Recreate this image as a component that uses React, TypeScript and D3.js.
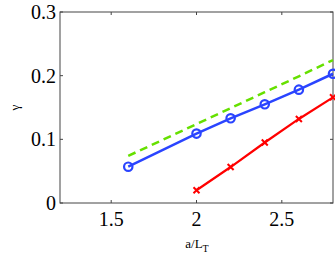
import * as d3 from 'd3'
import { useEffect, useRef } from 'react'

const blueX = [1.6, 2.0, 2.2, 2.4, 2.6, 2.8]
const blueY = [0.057, 0.109, 0.133, 0.155, 0.178, 0.203]
const redX = [2.0, 2.2, 2.4, 2.6, 2.8]
const redY = [0.02, 0.0565, 0.095, 0.132, 0.166]
const greenX = [1.6, 2.0, 2.2, 2.4, 2.6, 2.8]
const greenY = [0.074, 0.124, 0.149, 0.174, 0.199, 0.2245]
const xTicks = [1.5, 2, 2.5]
const yTicks = [0, 0.1, 0.2, 0.3]

export default function App() {
    const svgRef = useRef<SVGSVGElement>(null)

    useEffect(() => {
        makeChart()
    }, [])

    function makeChart() {
        const width = 335
        const height = 255
        const left = 60
        const right = 333
        const top = 12
        const bottom = 203
        const font = '"Liberation Serif", "Times New Roman", serif'

        const svg = d3.select(svgRef.current).attr('width', width).attr('height', height)
        svg.selectAll('*').remove()

        const x = d3.scaleLinear().domain([1.2, 2.8]).range([left, right])
        const y = d3.scaleLinear().domain([0, 0.3]).range([bottom, top])

        const axisColor = '#444'
        // box
        svg.append('rect').attr('x', left).attr('y', top).attr('width', right - left).attr('height', bottom - top)
            .attr('fill', 'white').attr('stroke', axisColor).attr('stroke-width', 1)

        // ticks inside on all four sides
        const tk = svg.append('g').attr('stroke', axisColor).attr('stroke-width', 1)
        xTicks.forEach(t => {
            tk.append('line').attr('x1', x(t)).attr('x2', x(t)).attr('y1', bottom).attr('y2', bottom - 3)
            tk.append('line').attr('x1', x(t)).attr('x2', x(t)).attr('y1', top).attr('y2', top + 3)
        })
        yTicks.forEach(t => {
            tk.append('line').attr('x1', left).attr('x2', left + 3).attr('y1', y(t)).attr('y2', y(t))
            tk.append('line').attr('x1', right).attr('x2', right - 3).attr('y1', y(t)).attr('y2', y(t))
        })

        svg.append('g').selectAll('text').data(xTicks).enter().append('text')
            .attr('x', d => x(d)).attr('y', bottom + 23).attr('text-anchor', 'middle')
            .attr('font-family', font).attr('font-size', 20).text(d => String(d))
        svg.append('g').selectAll('text').data(yTicks).enter().append('text')
            .attr('x', left - 4).attr('y', d => y(d) + 7).attr('text-anchor', 'end')
            .attr('font-family', font).attr('font-size', 20).text(d => String(d))

        const xl = svg.append('text').attr('x', 197).attr('y', 248).attr('text-anchor', 'middle')
            .attr('font-family', font).attr('font-size', 13)
        xl.append('tspan').text('a/L')
        xl.append('tspan').attr('dy', 4).attr('font-size', 10).text('T')

        svg.append('text').attr('transform', `translate(19, ${(top + bottom) / 2}) rotate(-90)`)
            .attr('text-anchor', 'middle').attr('font-family', font).attr('font-size', 13).text('γ')

        const line = d3.line<[number, number]>().x(d => x(d[0])).y(d => y(d[1]))

        const green = greenX.map((v, i) => [v, greenY[i]] as [number, number])
        svg.append('path').attr('d', line(green)).attr('fill', 'none').attr('stroke', '#66e000')
            .attr('stroke-width', 2.5).attr('stroke-dasharray', '8,5')

        const blue = blueX.map((v, i) => [v, blueY[i]] as [number, number])
        svg.append('path').attr('d', line(blue)).attr('fill', 'none').attr('stroke', '#2a44ff').attr('stroke-width', 2.5)
        svg.append('g').selectAll('circle').data(blue).enter().append('circle')
            .attr('cx', d => x(d[0])).attr('cy', d => y(d[1])).attr('r', 4.2)
            .attr('fill', 'none').attr('stroke', '#2a44ff').attr('stroke-width', 2.2)

        const red = redX.map((v, i) => [v, redY[i]] as [number, number])
        svg.append('path').attr('d', line(red)).attr('fill', 'none').attr('stroke', '#ff0000').attr('stroke-width', 2.2)
        const s = 3
        svg.append('g').selectAll('path').data(red).enter().append('path')
            .attr('d', d => {
                const cx = x(d[0]), cy = y(d[1])
                return `M${cx - s},${cy - s}L${cx + s},${cy + s}M${cx - s},${cy + s}L${cx + s},${cy - s}`
            })
            .attr('stroke', '#ff0000').attr('stroke-width', 2)
    }

    return (
        <svg ref={svgRef} style={{ position: 'absolute', left: 0, top: 0 }}></svg>
    )
}
